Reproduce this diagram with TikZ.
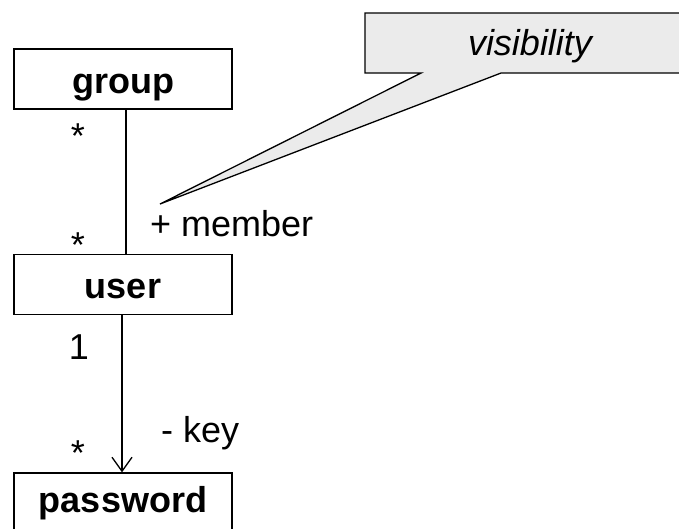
\documentclass[tikz,border=0pt]{standalone}
\usepackage{fontspec}
\setmainfont{Liberation Sans}
\usetikzlibrary{arrows.meta,shapes.callouts}
\definecolor{notefill}{HTML}{EBEBEB}
\begin{document}
\begin{tikzpicture}[x=1pt,y=-1pt,
  every node/.style={inner sep=0pt, font=\fontsize{36}{42}\selectfont},
  classbox/.style={draw, line width=1.3pt, minimum width=218pt, minimum height=60pt,
    text height=28pt, text depth=0pt, font=\fontsize{36}{42}\selectfont\bfseries},
  link/.style={line width=1.3pt},
  navlink/.style={link, -{Straight Barb[length=14pt,width=20pt,line width=1.3pt]}},
  note/.style={rectangle callout, draw, line width=1.3pt, fill=notefill,
    minimum width=330pt, minimum height=60pt, text height=25pt, text depth=0pt,
    callout pointer width=80pt, font=\fontsize{36}{42}\selectfont\itshape},
  mult/.style={anchor=base}]
\useasboundingbox (0,0) rectangle (679,528);
\clip (0,0) rectangle (679,528);

% classes
\node[classbox] (group) at (123,79) {group};
\node[classbox] (user) at (123,284.5) {user};
\node[classbox, text depth=10pt] (password) at (123,503) {password};

% associations
\draw[link] ([xshift=3pt]group.south) -- ([xshift=3pt]user.north);
\draw[navlink] ([xshift=-1pt]user.south) -- ([xshift=-1pt]password.north);

% multiplicities and role names
\node[mult] (m1) at (78,148) {*};
\node[mult] (m2) at (78,257) {*};
\node[mult] (m3) at (79,359) {1};
\node[mult] (m4) at (78,465) {*};
\node[anchor=base west] (member) at (150,236) {+ member};
\node[anchor=base west] (key) at (161,442) {- key};

% note on the role visibility
\coordinate (tip) at (160,204);
\node[note, callout absolute pointer={(tip)}] (vis) at (530,43) {visibility};
\end{tikzpicture}
\end{document}
